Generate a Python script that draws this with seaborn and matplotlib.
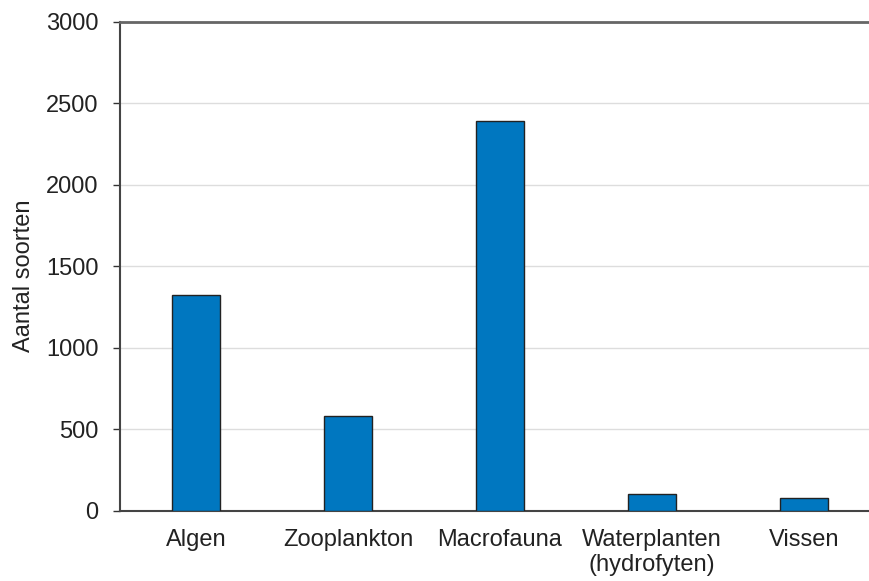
import matplotlib
matplotlib.use("Agg")
import matplotlib.pyplot as plt
import seaborn as sns
import pandas as pd

# data
groepen = ["Algen", "Zooplankton", "Macrofauna", "Waterplanten\n(hydrofyten)", "Vissen"]
aantal_soorten = [1322, 580, 2390, 104, 76]
y_ticks = [0, 500, 1000, 1500, 2000, 2500, 3000]

sns.set_theme(style="white")
plt.rcParams["font.family"] = ["Liberation Sans", "DejaVu Sans"]

df = pd.DataFrame({"groep": groepen, "aantal": aantal_soorten})

fig = plt.figure(figsize=(8.69, 5.81), dpi=100)
ax = fig.add_axes([120 / 869, 70.5 / 581, 760 / 869, 488.8 / 581])

sns.barplot(data=df, x="groep", y="aantal", color="#0077c0",
            saturation=1, width=0.313, edgecolor="#222222", linewidth=1,
            ax=ax, zorder=3)

ax.set_ylim(0, 3000)
ax.set_xlim(-0.5, 4.5)
ax.set_yticks(y_ticks)
ax.yaxis.grid(True, color="#dddddd", linewidth=1, zorder=0)
ax.set_axisbelow(True)

# category boundary ticks on the x axis
ax.set_xticks([i - 0.5 for i in range(6)], minor=True)
ax.tick_params(axis="x", which="major", length=0, pad=13, labelsize=17, colors="#222222")
ax.tick_params(axis="x", which="minor", length=5, width=1, color="#444444", direction="out")
ax.tick_params(axis="y", which="major", length=5, width=1, color="#333333", direction="out",
               labelsize=17, labelcolor="#222222", pad=10.5, left=True)

for side in ["left", "bottom"]:
    ax.spines[side].set_color("#444444")
    ax.spines[side].set_linewidth(1.5)
ax.spines["top"].set_color("#666666")
ax.spines["top"].set_linewidth(2)
ax.spines["right"].set_visible(False)

ax.set_xlabel("")
ax.set_ylabel("Aantal soorten", fontsize=17, color="#222222")
ax.yaxis.set_label_coords(-0.112, 0.48)

fig.savefig("out.png", dpi=100)
plt.close(fig)
